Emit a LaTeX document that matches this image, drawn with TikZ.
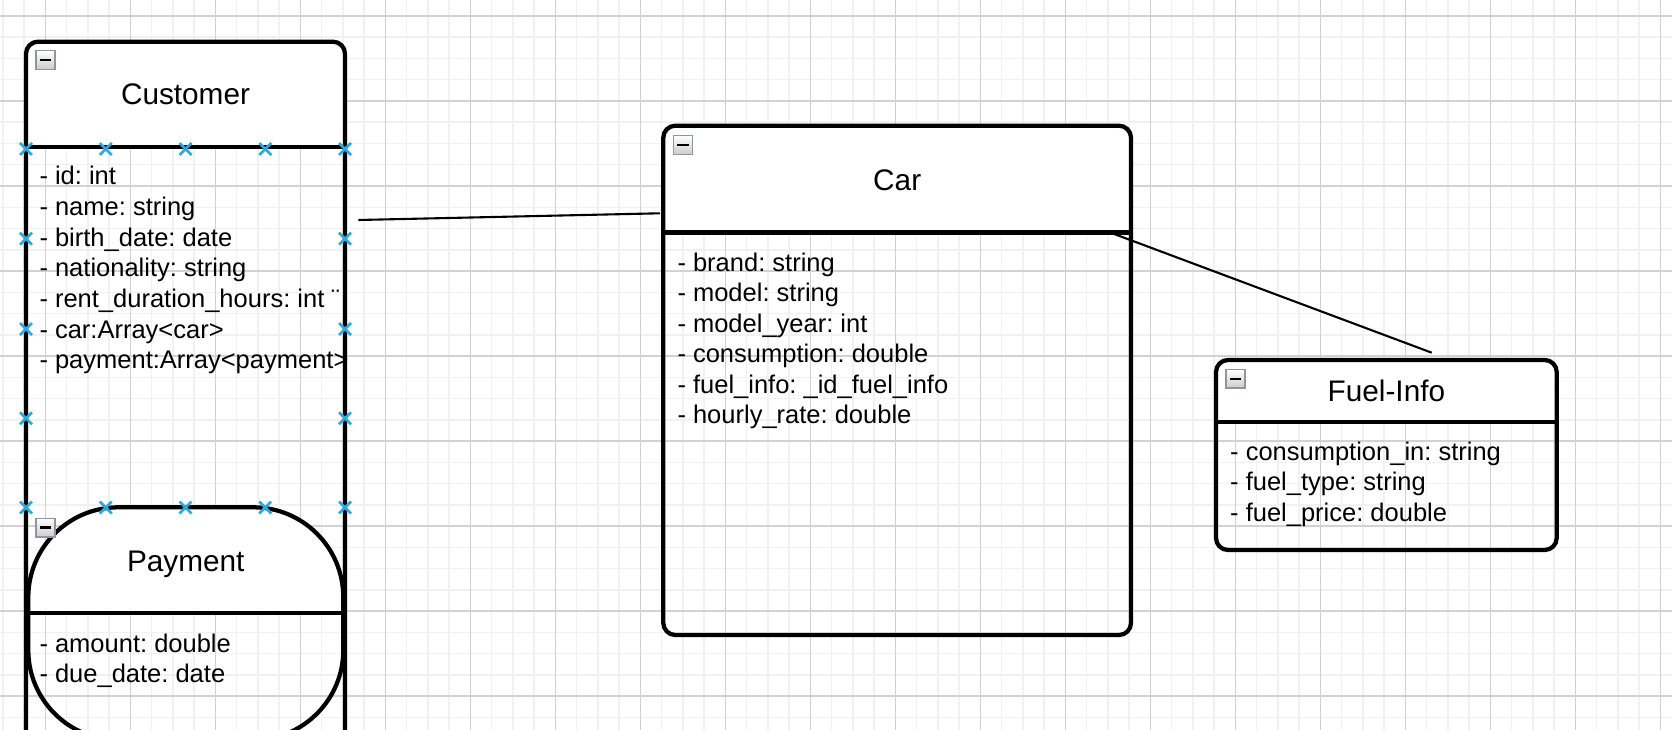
\documentclass[tikz,border=0pt]{standalone}
\usepackage{fontspec}
\setmainfont{Liberation Sans}
\frenchspacing
\usetikzlibrary{calc}
\definecolor{gridmajor}{HTML}{D2D2D2}
\definecolor{gridminor}{HTML}{F1F1F1}
\definecolor{xblue}{HTML}{29ABE2}
\definecolor{iconedge}{HTML}{8E95A3}
\begin{document}
\begin{tikzpicture}[x=1pt,y=-1pt,
  titletext/.style={font=\fontsize{29.75}{35}\selectfont, anchor=base, inner sep=0pt},
  attrtext/.style={font=\fontsize{25.5}{30.6}\selectfont, anchor=base west, inner sep=0pt},
  classbox/.style={draw=black, line width=4.25pt, rounded corners=12pt, inner sep=0pt, outer sep=0pt},
  headfill/.style={fill=white},
  sepline/.style={draw=black, line width=4.25pt},
  connector/.style={draw=black, line width=2.1pt},
  xmark/.style={draw=xblue, line width=2.6pt},
  minorline/.style={draw=gridminor, line width=1.5pt},
  majorline/.style={draw=gridmajor, line width=1.1pt},
  minusicon/.pic={
    \draw[iconedge, line width=1.4pt, top color=white, bottom color=black!20] (0,0) rectangle (19,18.6);
    \draw[black, line width=2.3pt] (3.8,9.3) -- (15.2,9.3);
  }
]
\useasboundingbox (0,0) rectangle (1672,730);
\clip (0,0) rectangle (1672,730);
\fill[white] (0,0) rectangle (1672,730);

% grid
\foreach \i in {0,...,79} \draw[minorline] ({2.8+21.25*\i},0) -- ++(0,730);
\foreach \j in {-1,...,34} \draw[minorline] (0,{16+21.25*\j}) -- ++(1672,0);
\foreach \i in {0,...,19} \draw[majorline] ({45.3+85*\i},0) -- ++(0,730);
\foreach \j in {0,...,8} \draw[majorline] (0,{16+85*\j}) -- ++(1672,0);

% header fills
\fill[headfill, rounded corners=12pt] (26,147) -- (26,41.7) -- (345,41.7) -- (345,147);
\fill[headfill, rounded corners=12pt] (663.3,232.5) -- (663.3,125.7) -- (1131,125.7) -- (1131,232.5);
\fill[headfill, rounded corners=12pt] (1216,422) -- (1216,360) -- (1556.7,360) -- (1556.7,422);
\fill[headfill, rounded corners=90pt] (28.3,613.3) -- (28.3,507.3) -- (343.3,507.3) -- (343.3,613.3);

% titles
\node[titletext] (custT) at (185.5,104.5) {Customer};
\node[titletext] (carT) at (897.2,190) {Car};
\node[titletext] (fuelT) at (1386.4,401.5) {Fuel-Info};
\node[titletext] (payT) at (185.8,571.5) {Payment};

% attributes
\foreach \t [count=\k from 0] in {{- id: int},{- name: string},{- birth\_date: date},{- nationality: string},{- rent\_duration\_hours: int ¨},{- car:Array<car>},{- payment:Array<payment>}}
  \node[attrtext] (custA\k) at (39.3,{185+30.6*\k}) {\t};
\foreach \t [count=\k from 0] in {{- brand: string},{- model: string},{- model\_year: int},{- consumption: double},{- fuel\_info: \_id\_fuel\_info},{- hourly\_rate: double}}
  \node[attrtext] (carA\k) at (677.3,{271.6+30.35*\k}) {\t};
\foreach \t [count=\k from 0] in {{- consumption\_in: string},{- fuel\_type: string},{- fuel\_price: double}}
  \node[attrtext] (fuelA\k) at (1230,{460+30.8*\k}) {\t};
\foreach \t [count=\k from 0] in {{- amount: double},{- due\_date: date}}
  \node[attrtext] (payA\k) at (39.3,{652.6+30.2*\k}) {\t};

% boxes
\node[classbox, minimum width=319pt, minimum height=760pt] (customer) at (185.5,421.7) {};
\node[classbox, minimum width=467.7pt, minimum height=509.3pt] (car) at (897.15,380.35) {};
\node[classbox, minimum width=340.7pt, minimum height=190pt] (fuel) at (1386.35,455) {};
\node[classbox, rounded corners=90pt, minimum width=315pt, minimum height=232.7pt] (payment) at (185.8,623.65) {};

% separators
\draw[sepline] (26,147) -- (345,147);
\draw[sepline] (663.3,232.5) -- (1131,232.5);
\draw[sepline] (1216,422) -- (1556.7,422);
\draw[sepline] (28.3,613.3) -- (343.3,613.3);

% collapse icons
\pic at (36,50.7) {minusicon};
\pic at (673.5,135.7) {minusicon};
\pic at (1226,369.5) {minusicon};
\pic at (36,518.3) {minusicon};

% connectors
\coordinate (cA) at (358.3,220);
\coordinate (cB) at (660,213.3);
\coordinate (cC) at (1110.7,232.7);
\coordinate (cD) at (1431.7,352.7);
\draw[connector] (cA) -- (cB);
\draw[connector] (cC) -- (cD);

% connection point marks
\foreach \x in {26,105.75,185.5,265.25,345} {
  \draw[xmark] (\x,149) +(-6,-6) -- +(6,6) +(-6,6) -- +(6,-6);
  \draw[xmark] (\x,507.5) +(-6,-6) -- +(6,6) +(-6,6) -- +(6,-6);
}
\foreach \y in {238.7,329,418.3} {
  \foreach \x in {26,345} {
    \draw[xmark] (\x,\y) +(-6,-6) -- +(6,6) +(-6,6) -- +(6,-6);
  }
}
\end{tikzpicture}
\end{document}
